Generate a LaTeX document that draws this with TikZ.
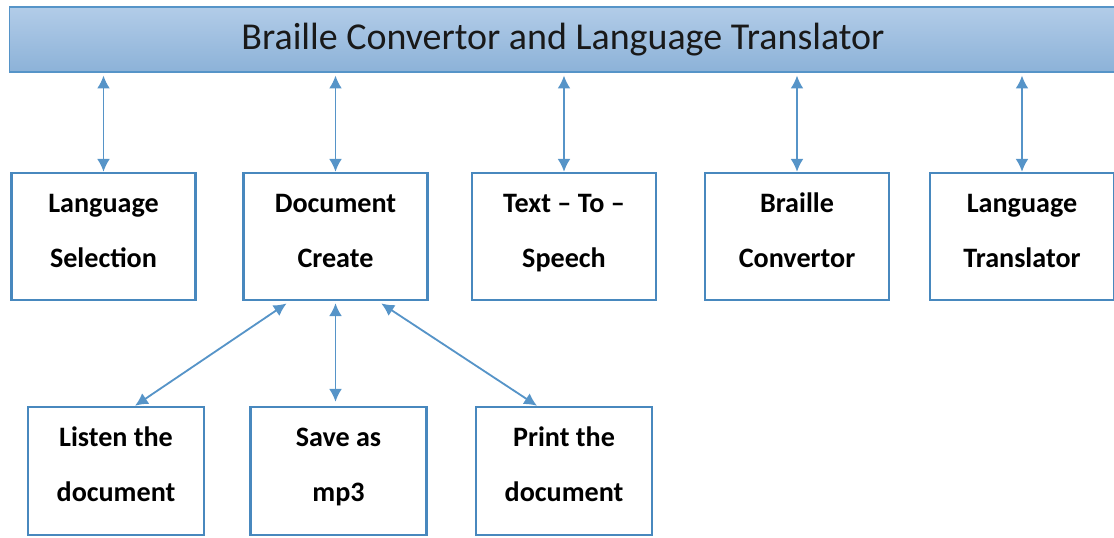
\documentclass[tikz,border=0pt]{standalone}
\usepackage{fontspec}
\setmainfont{Carlito}
\usetikzlibrary{arrows.meta}
\definecolor{boxblue}{RGB}{72,136,190}
\definecolor{arrblue}{RGB}{86,148,200}
\definecolor{bartop}{RGB}{178,204,232}
\definecolor{barbot}{RGB}{140,178,216}
\begin{document}
\begin{tikzpicture}[x=0.025cm, y=-0.025cm,
        blk/.style={draw=boxblue, line width=1.7pt, minimum width=4.6cm, minimum height=3.175cm,
            align=center, text height=1.9cm, text depth=0.375cm,
            font=\fontsize{20}{39}\selectfont\bfseries},
        sub/.style={blk, minimum width=4.4cm, minimum height=3.2cm},
        link/.style={draw=arrblue, line width=1.3pt, {Latex[length=3.2mm,width=3.2mm]}-{Latex[length=3.2mm,width=3.2mm]}}]
    \useasboundingbox (0,0) rectangle (1114,538);

    % Barra del titolo
    \node[draw=arrblue, line width=0.8pt, top color=bartop, bottom color=barbot,
          minimum width=27.75cm, minimum height=1.625cm] (head) at (565,39.5) {};
    \node[font=\fontsize{27}{30}\selectfont, text=black!90] (title) at (563,39.5)
        {Braille Convertor and Language Translator};

    % Moduli principali
    \node[blk] (lang)  at (103.5,236.5) {Language\\Selection};
    \node[blk] (doc)   at (335.5,236.5) {Document\\Create};
    \node[blk] (tts)   at (564,236.5)   {Text -- To --\\Speech};
    \node[blk] (brl)   at (797,236.5)   {Braille\\Convertor};
    \node[blk] (trans) at (1022,236.5)  {Language\\Translator};

    % Sotto-moduli del documento
    \node[sub] (listen) at (116,471)   {Listen the\\document};
    \node[sub] (save)   at (338.5,471) {Save as\\mp3};
    \node[sub] (print)  at (564,471)   {Print the\\document};

    % Collegamenti con la barra
    \foreach \b in {lang,doc,tts,brl,trans}
        \draw[link, shorten >=0.075cm] (\b.north) -- (\b.north |- head.south);

    % Collegamenti verso i sotto-moduli
    \draw[link, shorten <=0.1cm] ([xshift=-1.14cm]doc.south) -- ([xshift=0.475cm]listen.north);
    \draw[link, shorten <=0.05cm, shorten >=0.1cm] (doc.south) -- (doc.south |- save.north);
    \draw[link, shorten <=0.1cm] ([xshift=1.06cm]doc.south) -- ([xshift=-0.675cm]print.north);
\end{tikzpicture}
\end{document}
